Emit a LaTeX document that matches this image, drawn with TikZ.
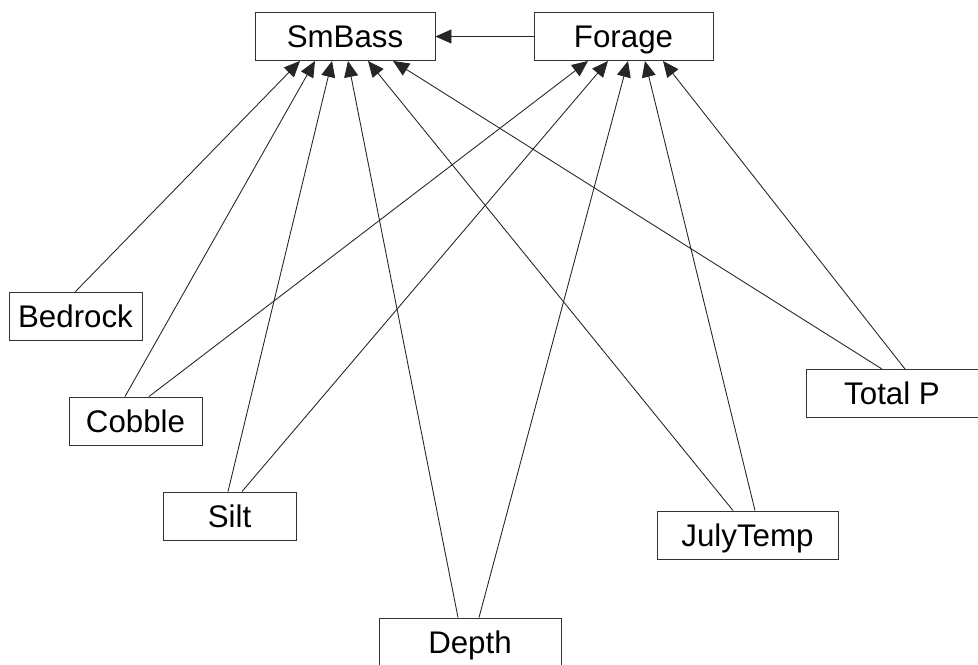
\documentclass[tikz,border=0pt]{standalone}
\usepackage{fontspec}
\setmainfont{Liberation Sans}
\usetikzlibrary{arrows.meta,calc}

\begin{document}
\begin{tikzpicture}[x=0.02cm,y=-0.02cm]

      \useasboundingbox (0,0) rectangle (978,664);

      \begin{scope}[every node/.style={draw=black!80,line width=0.55pt,
          minimum width=2.66cm,minimum height=0.96cm,inner sep=0pt,
          text height=12.8pt,text depth=0pt,
          font=\fontsize{17.8}{20}\selectfont}]
        \node[minimum width=3.6cm]  (smbass)   at (345,36.5)  {SmBass};
        \node[minimum width=3.58cm] (forage)   at (623.5,36.5) {Forage};
        \node (bedrock)  at (75.5,316)  {Bedrock};
        \node (cobble)   at (135.5,421) {Cobble};
        \node (silt)     at (229.5,516) {Silt};
        \node[minimum width=3.64cm] (depth)    at (470,642)   {Depth};
        \node[minimum width=3.44cm] (totalp)   at (892,393.5) {Total P};
        \node[minimum width=3.62cm] (julytemp) at (747.5,535) {JulyTemp};
      \end{scope}

      \begin{scope}[every edge/.style={draw,black!85,line width=0.5pt,
          -{Triangle[length=0.32cm,width=0.28cm]}}]
        \path (forage.west) edge (smbass.east);

        % into SmBass
        \path (bedrock.north)                 edge ($(smbass.south)+(-45,0)$);
        \path ($(cobble.north)+(-10.5,0)$)    edge ($(smbass.south)+(-30,0)$);
        \path ($(silt.north)+(-1.5,0)$)       edge ($(smbass.south)+(-13,0)$);
        \path ($(depth.north)+(-12,0)$)       edge ($(smbass.south)+(3,0)$);
        \path ($(julytemp.north)+(-14.5,0)$)  edge ($(smbass.south)+(23,0)$);
        \path ($(totalp.north)+(-10,0)$)      edge ($(smbass.south)+(48,0)$);

        % into Forage
        \path ($(cobble.north)+(13.5,0)$)     edge ($(forage.south)+(-35.5,0)$);
        \path ($(silt.north)+(12.5,0)$)       edge ($(forage.south)+(-15.5,0)$);
        \path ($(depth.north)+(9,0)$)         edge ($(forage.south)+(4.5,0)$);
        \path ($(julytemp.north)+(7.5,0)$)    edge ($(forage.south)+(21.5,0)$);
        \path ($(totalp.north)+(13,0)$)       edge ($(forage.south)+(39.5,0)$);
      \end{scope}

    \end{tikzpicture}
\end{document}
